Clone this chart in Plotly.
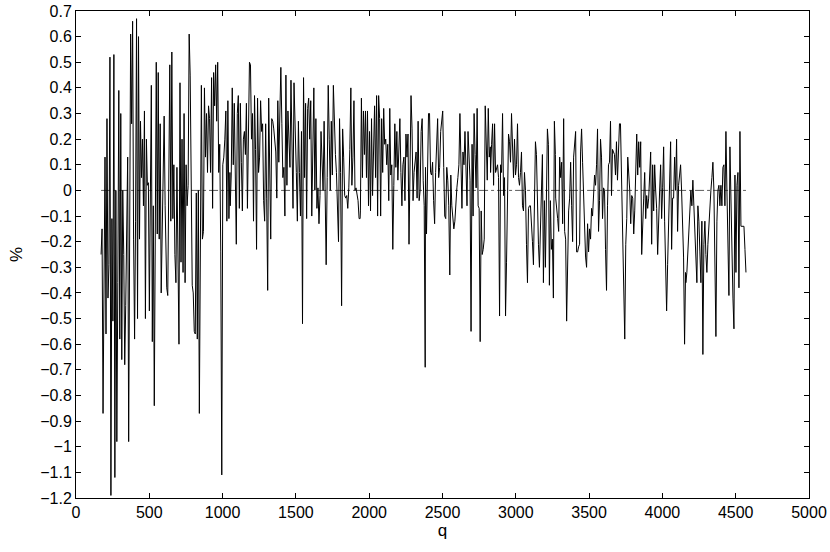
import numpy as np
import plotly.graph_objects as go

# values, in ten consecutive chunks along q
seg_q_first = [171, 612, 1052, 1496, 1940, 2384, 2828, 3272, 3716, 4160]
seg_q_last = [608, 1050, 1494, 1938, 2382, 2826, 3270, 3714, 4158, 4570]

pct_1 = [-0.25, -0.15, -0.87, -0.42, 0.13, -0.56, 0.28, -0.42, -0.29, 0.52, -1.19, -0.11, -0.51, 0.53,
         -1.12, 0.0, -0.98, -0.36, 0.39, -0.58, 0.30, -0.66, 0.0, -0.25, -0.68, -0.45, -0.11, 0.13, -0.98,
         -0.02, 0.61, 0.26, 0.66, -0.19, -0.58, -0.12, 0.67, -0.50, 0.60, -0.19, 0.27, 0.05, 0.20, -0.06,
         0.31, -0.50, 0.20, 0.02, 0.03, -0.47, 0.04, 0.41, -0.59, -0.06, -0.84, -0.08, 0.50, -0.17, 0.46,
         -0.19, 0.26, -0.40, -0.16, 0.20, 0.29, -0.06]
pct_2 = [-0.23, -0.38, -0.41, 0.10, 0.49, -0.12, 0.54, -0.11, 0.10, -0.25, -0.36, 0.09, -0.19, -0.60,
         0.42, -0.28, 0.20, -0.32, 0.30, -0.36, 0.10, -0.06, 0.02, 0.61, 0.45, -0.10, -0.37, -0.40, -0.55,
         -0.56, -0.01, -0.58, 0.0, -0.87, 0.01, 0.41, -0.19, -0.16, 0.40, 0.13, 0.30, 0.07, 0.33, 0.28,
         0.07, 0.44, -0.07, 0.46, 0.33, 0.49, 0.27, 0.50, 0.07, 0.18, -0.24, -1.11, 0.10, 0.13, 0.20, 0.31,
         -0.12, 0.35, -0.11, 0.07]
pct_3 = [-0.06, 0.06, 0.40, 0.10, 0.34, -0.03, -0.21, 0.30, 0.37, -0.07, 0.34, 0.11, -0.08, 0.20, 0.23,
         0.14, 0.34, -0.07, 0.22, 0.50, 0.49, 0.20, 0.30, -0.12, 0.37, 0.16, -0.23, 0.36, 0.07, 0.13, 0.35,
         0.23, 0.26, -0.04, -0.12, 0.26, -0.03, -0.39, 0.36, 0.15, -0.19, 0.28, 0.27, 0.24, 0.20, 0.15,
         -0.03, 0.35, 0.11, 0.28, 0.48, 0.26, 0.05, 0.09, -0.10, 0.45, 0.02, 0.31, 0.18, 0.09, 0.43, 0.07,
         -0.07, 0.42, 0.20]
pct_4 = [0.27, 0.07, -0.12, 0.27, 0.07, -0.10, 0.23, -0.52, 0.44, 0.05, 0.34, -0.11, 0.32, 0.36, 0.20,
         0.35, -0.10, 0.09, 0.40, 0.0, 0.28, -0.07, 0.01, -0.13, -0.02, 0.23, 0.10, 0.0, 0.27, 0.0, -0.29,
         0.05, 0.41, 0.20, 0.0, 0.27, 0.06, 0.41, 0.20, 0.14, 0.07, -0.03, -0.20, 0.28, 0.07, -0.45, 0.24,
         0.13, -0.02, -0.03, -0.02, -0.07, 0.01, 0.16, 0.40, 0.02, 0.13, 0.35, 0.0, 0.01, -0.02, -0.04,
         -0.11, -0.11]
pct_5 = [-0.08, 0.36, 0.05, 0.31, 0.14, 0.31, 0.05, 0.31, -0.06, 0.23, -0.08, 0.28, -0.02, 0.11, 0.33,
         0.05, 0.37, -0.10, 0.37, 0.28, -0.10, 0.28, 0.07, 0.32, 0.18, 0.20, 0.10, 0.18, -0.04, 0.32, 0.06,
         0.10, -0.23, 0.02, 0.26, 0.09, 0.23, 0.04, 0.19, 0.28, 0.07, -0.06, 0.10, 0.13, -0.04, 0.22, 0.13,
         0.22, -0.21, 0.13, 0.37, 0.24, -0.04, 0.07, 0.10, 0.15, -0.03, 0.27, -0.04, 0.0, 0.23, 0.28, 0.04,
         -0.06, -0.69]
pct_6 = [0.09, -0.17, 0.11, 0.30, 0.30, 0.07, 0.06, 0.11, -0.04, -0.13, 0.07, 0.20, 0.28, 0.05, 0.09,
         0.23, 0.27, 0.31, 0.09, -0.10, -0.11, 0.09, 0.04, -0.06, -0.33, 0.06, -0.06, -0.10, -0.15, -0.12,
         -0.03, 0.01, 0.05, 0.10, 0.30, 0.07, -0.07, 0.15, 0.10, 0.23, 0.11, -0.06, 0.23, 0.14, 0.04, -0.55,
         0.18, -0.10, 0.30, 0.14, 0.01, 0.32, -0.06, -0.07, -0.59, -0.08, -0.25, -0.23, -0.19, 0.33, 0.20,
         0.04, 0.32, 0.13, 0.17]
pct_7 = [0.07, 0.18, 0.26, 0.02, 0.26, 0.07, 0.09, 0.10, 0.05, -0.49, 0.10, 0.07, 0.30, -0.02, 0.05,
         -0.49, -0.28, -0.08, 0.22, 0.19, 0.11, 0.30, 0.20, 0.05, 0.20, 0.06, 0.10, 0.26, 0.05, 0.02, 0.07,
         0.15, -0.06, -0.08, 0.07, 0.0, -0.21, -0.36, -0.07, -0.06, -0.06, -0.12, -0.20, -0.29, 0.05, 0.19,
         0.14, -0.12, -0.21, -0.30, -0.11, 0.02, 0.14, -0.36, -0.04, -0.30, -0.06, 0.24, 0.18, -0.37,
         -0.04, -0.23, -0.19, -0.42, 0.27, 0.14]
pct_8 = [-0.03, -0.06, -0.11, -0.16, 0.13, 0.05, 0.11, -0.13, 0.28, -0.16, -0.19, -0.51, -0.19, -0.08,
         -0.03, 0.11, -0.06, -0.20, 0.13, 0.18, 0.23, -0.24, -0.24, -0.22, -0.21, 0.15, 0.24, 0.11, -0.04,
         -0.11, -0.26, -0.30, -0.13, -0.24, -0.15, -0.19, -0.07, -0.10, 0.0, 0.06, 0.02, 0.10, 0.24, -0.16,
         -0.04, 0.20, 0.13, -0.11, 0.01, 0.0, -0.23, -0.39, -0.06, 0.10, 0.11, 0.27, -0.02, 0.16, 0.15,
         0.14, 0.06, 0.19, 0.04, 0.19, 0.26, 0.26]
pct_9 = [0.20, -0.04, -0.32, -0.39, -0.58, -0.21, -0.11, 0.13, 0.07, 0.0, -0.13, -0.02, -0.03, -0.17,
         -0.08, 0.06, 0.22, 0.06, 0.19, 0.09, 0.19, -0.25, -0.08, -0.03, 0.07, -0.11, -0.02, -0.07, -0.03,
         0.11, 0.15, -0.21, 0.10, -0.08, 0.10, 0.0, -0.07, -0.25, -0.07, 0.0, 0.10, -0.11, 0.01, 0.17,
         -0.12, -0.29, -0.47, -0.29, -0.10, 0.02, 0.19, -0.23, -0.03, -0.03, 0.13, 0.0, 0.20, -0.16, 0.02,
         0.06, 0.10, 0.0, -0.12, -0.26, -0.60, -0.32]
pct_10 = [-0.36, -0.32, -0.24, -0.16, -0.08, 0.0, -0.06, 0.04, -0.06, -0.16, -0.26, -0.36, -0.06, -0.12,
          -0.24, -0.36, -0.12, -0.64, -0.21, -0.12, -0.25, -0.32, -0.21, -0.12, -0.06, 0.0, 0.05, 0.11,
          0.0, -0.21, -0.57, -0.12, 0.0, 0.02, -0.06, 0.02, -0.06, 0.09, 0.10, -0.06, 0.23, 0.0, -0.19,
          -0.41, 0.17, -0.06, -0.19, -0.42, -0.54, 0.06, -0.32, 0.02, 0.07, -0.38, 0.23, -0.14, -0.14,
          -0.14, -0.14, -0.23, -0.32]

pct_chunks = [pct_1, pct_2, pct_3, pct_4, pct_5, pct_6, pct_7, pct_8, pct_9, pct_10]

y_ticks = [0.7, 0.6, 0.5, 0.4, 0.3, 0.2, 0.1, 0, -0.1, -0.2, -0.3, -0.4, -0.5, -0.6, -0.7, -0.8, -0.9,
           -1.0, -1.1, -1.2]
y_labels = ['0.7', '0.6', '0.5', '0.4', '0.3', '0.2', '0.1', '0', '\u22120.1', '\u22120.2', '\u22120.3',
            '\u22120.4', '\u22120.5', '\u22120.6', '\u22120.7', '\u22120.8', '\u22120.9', '\u22121',
            '\u22121.1', '\u22121.2']
x_ticks = [0, 500, 1000, 1500, 2000, 2500, 3000, 3500, 4000, 4500, 5000]

q = np.concatenate([np.linspace(a, b, len(v)) for a, b, v in zip(seg_q_first, seg_q_last, pct_chunks)])
pct = np.concatenate(pct_chunks)

fig = go.Figure()
fig.add_trace(go.Scatter(x=[q[0], q[-1]], y=[0, 0], mode='lines',
                         line=dict(color='#333333', width=0.8, dash='dashdot'), showlegend=False))
fig.add_trace(go.Scatter(x=q, y=pct, mode='lines',
                         line=dict(color='black', width=1), showlegend=False))

axis_style = dict(showline=True, linecolor='black', linewidth=1, mirror='ticks', ticks='inside',
                  ticklen=5, tickcolor='black', showgrid=False, zeroline=False, automargin=False,
                  tickfont=dict(size=16, color='black'))

fig.update_xaxes(range=[0, 5000], tickvals=x_ticks, title=dict(text='q', standoff=2,
                 font=dict(size=17, color='black')), **axis_style)
fig.update_yaxes(range=[-1.2, 0.7], tickvals=y_ticks, ticktext=y_labels,
                 title=dict(text='%', standoff=13, font=dict(size=17, color='black')), **axis_style)

fig.update_layout(width=830, height=552, margin=dict(l=76, r=21, t=11, b=54),
                  paper_bgcolor='white', plot_bgcolor='white',
                  font=dict(family='Liberation Sans, Arial, sans-serif', color='black'))

# drop the default body margin so the figure sits at the window's top-left corner
fig.write_html("out.html", config={'displayModeBar': False},
               post_script="document.body.style.margin = '0';")
